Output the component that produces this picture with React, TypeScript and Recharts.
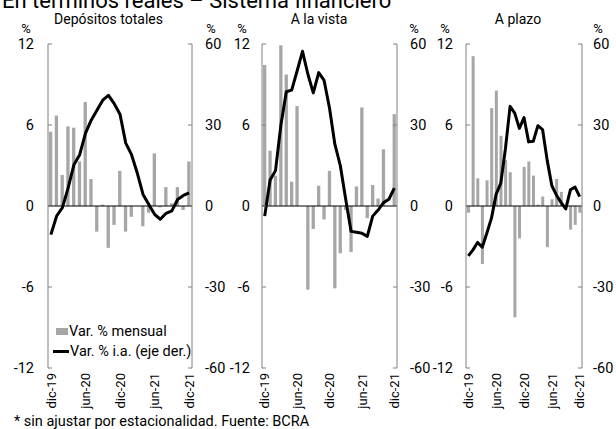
import { Bar, ComposedChart, Legend, Line, ReferenceLine, XAxis, YAxis } from "recharts"

// meses dic-19 .. dic-21
const MONTHS = [
    "dic-19", "ene-20", "feb-20", "mar-20", "abr-20", "may-20", "jun-20", "jul-20", "ago-20", "sep-20", "oct-20", "nov-20",
    "dic-20", "ene-21", "feb-21", "mar-21", "abr-21", "may-21", "jun-21", "jul-21", "ago-21", "sep-21", "oct-21", "nov-21", "dic-21",
]

const TOTAL_MENSUAL = [5.5, 6.7, 2.3, 5.9, 5.8, 3.3, 7.7, 2.0, -1.9, 0.1, -3.1, -1.4, 2.6, -1.9, -0.8, 0, -1.5, -0.5, 3.9, -0.1, 1.4, 0.2, 1.4, -0.3, 3.3]
const TOTAL_IA = [-10.6, -3.7, -0.6, 6.7, 15.3, 19.0, 26.9, 31.8, 35.5, 39.2, 41.0, 37.9, 34.0, 23.3, 19.0, 12.2, 4.3, 0.6, -3.1, -4.9, -2.7, -1.8, 2.4, 3.9, 4.9]

const VISTA_MENSUAL = [10.45, 4.1, 2.25, 11.9, 9.75, 1.8, 7.4, 0, -6.2, -1.7, 1.5, -1.0, 2.6, -6.1, -3.5, -0.3, -3.4, 1.45, 7.3, -0.9, 1.55, 0.55, 4.2, 0, 6.8]
const VISTA_IA = [-3.75, 9.6, 13.1, 30, 42.3, 42.9, 50, 57.3, 48.8, 41.9, 49.4, 46.5, 36.3, 22.8, 15, 2.5, -9.4, -9.75, -10.1, -11.25, -3.75, -1.5, 1.25, 2.5, 6.6]

const PLAZO_MENSUAL = [-0.5, 11.1, 2.05, -4.3, 1.9, 7.25, 8.55, 5.2, 3.4, 2.5, -8.25, -2.4, 2.9, 3.3, 2.25, 0.1, 0.7, -3.05, 0.5, 2.0, 1.05, -0.1, -1.75, -1.4, -0.5]
const PLAZO_IA = [-18.5, -16.25, -13.5, -15.25, -10, -4.4, 4.4, 8.5, 21.25, 36.9, 34.4, 28.75, 32.75, 23.75, 24, 29.75, 28.3, 16.9, 7.5, 4, 1.25, -1.1, 6.0, 7.0, 3.5]

const LEFT_TICKS = [-12, -6, 0, 6, 12]
const RIGHT_TICKS = [-60, -30, 0, 30, 60]

const FONT = "Roboto, 'Noto Sans', Arial, sans-serif"
const AXIS_GRAY = "#808080"
const BAR_GRAY = "#a6a6a6"

const buildRows = (mensual: number[], ia: number[]) =>
    MONTHS.map((m, i) => ({ m, mensual: mensual[i], ia: ia[i] }))

// Excel style: tick marks point inside the plot
const yTick = (side: "left" | "right", gap: number) => (props: any) => {
    const { x, y, payload } = props
    const axisX = side === "left" ? x + gap : x - gap
    const inward = side === "left" ? 4 : -4
    return (
        <g>
            <line x1={axisX} x2={axisX + inward} y1={y} y2={y} stroke={AXIS_GRAY} />
            <text
                x={x}
                y={y}
                dy="0.36em"
                textAnchor={side === "left" ? "end" : "start"}
                fontSize={14.5}
                fontFamily={FONT}
                fill="#000"
            >
                {payload.value}
            </text>
        </g>
    )
}

const XTick = (props: any) => {
    const { x, y, payload } = props
    return (
        <text
            x={0}
            y={0}
            transform={`translate(${x},${y}) rotate(-90)`}
            textAnchor="end"
            dy="0.36em"
            fontSize={13}
            fontFamily={FONT}
            fill="#000"
        >
            {payload.value}
        </text>
    )
}

const LegendBox = () => (
    <div style={{ fontFamily: FONT, fontSize: 14.5, color: "#000", lineHeight: "19.5px", whiteSpace: "nowrap" }}>
        <div style={{ display: "flex", alignItems: "center" }}>
            <span style={{ display: "inline-block", width: 12, height: 7, background: BAR_GRAY, marginLeft: 3, marginRight: 1 }} />
            <span>Var. % mensual</span>
        </div>
        <div style={{ display: "flex", alignItems: "center" }}>
            <span style={{ display: "inline-block", width: 16, height: 3, background: "#000", marginRight: 1 }} />
            <span>Var. % i.a. (eje der.)</span>
        </div>
    </div>
)

interface PanelProps {
    left: number
    plotWidth: number
    mensual: number[]
    ia: number[]
    gapL: number
    gapR: number
    barSize: number
    legend?: boolean
}

const AXIS_W = 40

function Panel({ left, plotWidth, mensual, ia, gapL, gapR, barSize, legend }: PanelProps) {
    const data = buildRows(mensual, ia)
    return (
        <div style={{ position: "absolute", left: left - AXIS_W, top: 0 }}>
            <ComposedChart
                width={plotWidth + 2 * AXIS_W}
                height={429}
                data={data}
                margin={{ top: 44, right: 0, bottom: 16, left: 0 }}
            >
                <XAxis
                    dataKey="m"
                    interval={5}
                    tickSize={0}
                    tickMargin={5}
                    axisLine={false}
                    tickLine={false}
                    height={45}
                    tick={XTick}
                />
                <YAxis
                    yAxisId="l"
                    orientation="left"
                    domain={[-12, 12]}
                    ticks={LEFT_TICKS}
                    interval={0}
                    width={AXIS_W}
                    tickSize={0}
                    tickMargin={gapL}
                    axisLine={{ stroke: AXIS_GRAY }}
                    tickLine={false}
                    tick={yTick("left", gapL)}
                    allowDataOverflow
                />
                <YAxis
                    yAxisId="r"
                    orientation="right"
                    domain={[-60, 60]}
                    ticks={RIGHT_TICKS}
                    interval={0}
                    width={AXIS_W}
                    tickSize={0}
                    tickMargin={gapR}
                    axisLine={{ stroke: AXIS_GRAY }}
                    tickLine={false}
                    tick={yTick("right", gapR)}
                    allowDataOverflow
                />
                <Bar yAxisId="l" dataKey="mensual" fill={BAR_GRAY} barSize={barSize} isAnimationActive={false} />
                <ReferenceLine yAxisId="l" y={0} stroke="#000" strokeWidth={1} />
                <Line
                    yAxisId="r"
                    type="linear"
                    dataKey="ia"
                    stroke="#000"
                    strokeWidth={3}
                    strokeLinejoin="round"
                    dot={false}
                    activeDot={false}
                    isAnimationActive={false}
                />
                {legend && (
                    <Legend
                        layout="vertical"
                        align="center"
                        verticalAlign="middle"
                        content={LegendBox}
                        wrapperStyle={{ left: 53 - (left - AXIS_W), top: 322, width: "auto", height: "auto" }}
                    />
                )}
            </ComposedChart>
        </div>
    )
}

const textStyle = { fontFamily: FONT, fill: "#000" }

export default function App() {
    return (
        <div
            style={{
                position: "absolute",
                left: 0,
                top: 0,
                width: 616,
                height: 429,
                background: "#fff",
                overflow: "hidden",
            }}
        >
            <Panel left={48} plotWidth={144} mensual={TOTAL_MENSUAL} ia={TOTAL_IA} gapL={14} gapR={13} barSize={3.3} legend />
            <Panel left={262} plotWidth={135} mensual={VISTA_MENSUAL} ia={VISTA_IA} gapL={12} gapR={13} barSize={3.3} />
            <Panel left={466} plotWidth={116} mensual={PLAZO_MENSUAL} ia={PLAZO_IA} gapL={13} gapR={11} barSize={3} />

            <svg width={616} height={429} style={{ position: "absolute", left: 0, top: 0, pointerEvents: "none" }}>
                <text x={2} y={8} fontSize={22} {...textStyle}>En términos reales – Sistema financiero</text>

                <text x={108.5} y={24} fontSize={14} textAnchor="middle" {...textStyle}>Depósitos totales</text>
                <text x={319} y={24} fontSize={14} textAnchor="middle" {...textStyle}>A la vista</text>
                <text x={518} y={24} fontSize={14} textAnchor="middle" {...textStyle}>A plazo</text>

                {[26, 211, 242, 414, 445, 598].map((cx) => (
                    <text key={cx} x={cx} y={32.5} fontSize={13} textAnchor="middle" {...textStyle}>%</text>
                ))}

                <text x={14} y={426} fontSize={14.5} {...textStyle}>* sin ajustar por estacionalidad. Fuente: BCRA</text>
            </svg>
        </div>
    )
}
